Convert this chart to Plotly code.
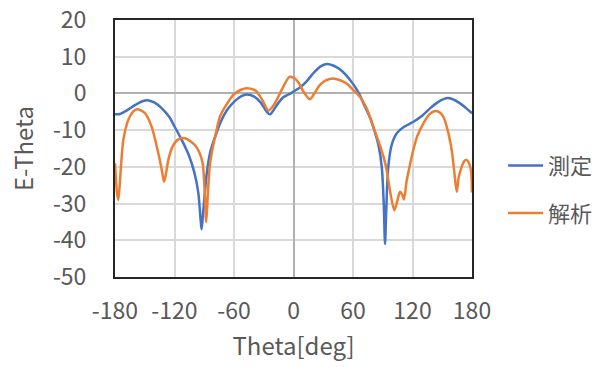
import plotly.graph_objects as go

theta_meas = [-180, -175, -168, -160, -153, -146, -140, -133, -125, -120, -113, -106, -100, -96,
              -93.5, -92.6, -91, -89, -87.5, -84, -79, -73, -67, -60, -53, -47, -40, -33, -27,
              -23.7, -20, -15, -10, -5, 0, 6.5, 13, 20, 27, 33.5, 40, 47, 53, 60, 66, 71, 77,
              82, 86, 89, 91, 92.3, 93.5, 95.6, 99, 104, 112, 121, 130, 138, 146, 154, 160,
              168, 174, 180]
e_meas = [-5.7, -5.6, -4.6, -3.2, -2.2, -1.9, -2.5, -4, -6.5, -9, -12.5, -16.5, -21.5, -27,
          -35, -37, -32, -26, -21.8, -16, -11.8, -7.5, -4.5, -2.3, -0.8, -0.3, -0.8, -2.5, -5,
          -5.7, -4.5, -2.5, -1, -0.3, 0.5, 1.6, 3.2, 5.5, 7.3, 8.0, 7.6, 6.5, 5, 2.6, 0, -3,
          -6.5, -10.5, -14.5, -20, -30, -41, -32, -20, -14, -10.9, -9, -7.7, -6, -4, -2.3,
          -1.3, -1.5, -2.7, -4, -5.4]

theta_calc = [-180, -178, -176.6, -174, -171.6, -166.6, -162, -158, -154, -149.7, -143, -136.3,
              -132, -130.6, -129, -126.2, -122, -116.2, -109.4, -104, -99.3, -95, -91.6, -89.5,
              -88, -86.5, -84.5, -82.5, -78, -74.1, -67, -60.7, -53, -47.2, -40, -37, -31,
              -25.4, -21, -17, -10, -4, 0, 5, 10, 16.6, 21, 26.7, 33, 40, 47, 53.6, 60, 67,
              74, 80.5, 87, 91, 94, 97, 101.6, 104, 107.4, 109.5, 111.4, 114, 117, 120.8, 125,
              130.9, 137, 142.7, 147, 151, 155, 159.5, 162, 164.6, 166.5, 169.6, 172, 174.6,
              177, 179, 180]
e_calc = [-19, -27, -29, -20, -12.7, -7.2, -5, -4.3, -4.6, -5.4, -9.1, -16.3,
          -22, -24, -22.5, -18.1, -14.5, -12.5, -12.2, -13, -14.1, -16, -19, -27,
          -35, -28, -20, -16.3, -10.5, -6.3, -2.8, -0.4, 1, 1.4, 1, 0.5, -2,
          -4.7, -3.6, -1.8, 2, 4.5, 4.3, 3, 0.5, -1.6, 0, 2.3, 3.6, 4.1, 3.6, 2.7, 1, -0.9,
          -4.2, -9.1, -14, -17.5, -20.9, -26, -31.8, -30, -26.8, -27.5, -28.9, -24, -20, -15.4, -11.5,
          -8.2, -5.7, -4.8, -5.1, -6.3, -9.5, -15.4, -21, -26.8, -23, -20, -18.5, -18.1,
          -19, -21, -27]

x_ticks = [-180, -120, -60, 0, 60, 120, 180]
y_ticks = [-50, -40, -30, -20, -10, 0, 10, 20]

FONT = "Noto Sans CJK JP"
TXT = "#595959"

fig = go.Figure()
fig.add_trace(go.Scatter(x=theta_meas, y=e_meas, mode="lines", name="測定",
                         legendgroup="a",
                         line=dict(color="#4472C4", width=2.5, shape="spline", smoothing=0.8)))
fig.add_trace(go.Scatter(x=theta_calc, y=e_calc, mode="lines", name="解析",
                         legendgroup="b",
                         line=dict(color="#ED7D31", width=2.5, shape="spline", smoothing=0.8)))

fig.update_layout(
    width=611, height=367,
    margin=dict(l=115, r=139, t=20, b=90, autoexpand=False),
    paper_bgcolor="white", plot_bgcolor="white",
    font=dict(family=FONT, size=23, color=TXT),
    legend=dict(x=1.087, xanchor="left", y=0.515, yanchor="top",
                tracegroupgap=16, font=dict(size=22, color=TXT),
                bgcolor="rgba(0,0,0,0)", itemwidth=35),
    showlegend=True,
)
fig.update_xaxes(range=[-180, 180], tickvals=x_ticks, ticktext=[str(v) for v in x_ticks],
                 automargin=False, tickfont=dict(size=23, color=TXT),
                 ticklabeloverflow="allow",
                 showgrid=True, gridcolor="#d9d9d9", gridwidth=1.5,
                 zeroline=True, zerolinecolor="#b0b0b0", zerolinewidth=1.5,
                 showline=True, mirror=True, linecolor="#262626", linewidth=2,
                 ticks="", ticklabelstandoff=12,
                 title=dict(text="Theta[deg]", standoff=14, font=dict(size=24, color=TXT)))
fig.update_yaxes(range=[-50, 20], tickvals=y_ticks, ticktext=[str(v) for v in y_ticks],
                 automargin=False, tickfont=dict(size=23, color=TXT),
                 ticklabeloverflow="allow",
                 showgrid=True, gridcolor="#d9d9d9", gridwidth=1.5,
                 zeroline=True, zerolinecolor="#b0b0b0", zerolinewidth=1.5,
                 showline=True, mirror=True, linecolor="#262626", linewidth=2,
                 ticks="", ticklabelstandoff=22,
                 title=dict(text="E-Theta", standoff=12, font=dict(size=24, color=TXT)))

fig.write_html("out.html", config={"displayModeBar": False},
               post_script="document.body.style.margin='0';")
